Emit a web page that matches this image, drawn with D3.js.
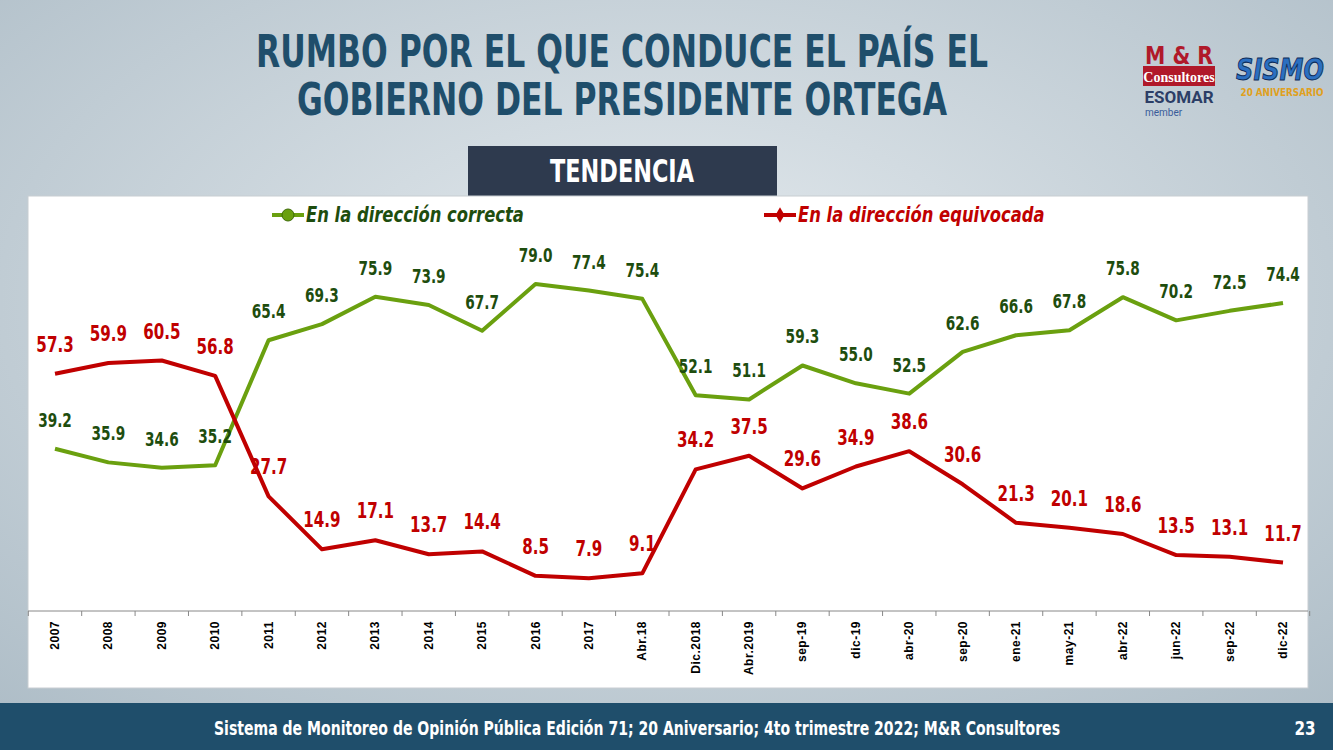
<!DOCTYPE html>
<html lang="es">
<head>
<meta charset="UTF-8">
<script src="https://d3js.org/d3.v7.min.js"></script>
<style>
  body { margin: 0; width: 1333px; height: 750px; overflow: hidden; }
  svg { display: block; }
</style>
</head>
<body>
<svg id="chart" width="1333" height="750"></svg>
<script>
const categories = ['2007','2008','2009','2010','2011','2012','2013','2014','2015','2016','2017','Abr.18',
  'Dic.2018','Abr.2019','sep-19','dic-19','abr-20','sep-20','ene-21','may-21','abr-22','jun-22','sep-22','dic-22'];
const correcta = [39.2,35.9,34.6,35.2,65.4,69.3,75.9,73.9,67.7,79.0,77.4,75.4,52.1,51.1,59.3,55.0,52.5,62.6,66.6,67.8,75.8,70.2,72.5,74.4];
const equivocada = [57.3,59.9,60.5,56.8,27.7,14.9,17.1,13.7,14.4,8.5,7.9,9.1,34.2,37.5,29.6,34.9,38.6,30.6,21.3,20.1,18.6,13.5,13.1,11.7];

const svg = d3.select('#chart');
const cond = "'DejaVu Sans', sans-serif";

// condensed text helper: squeeze horizontally around (x, y)
function ctext(g, x, y, txt, size, color, opts = {}) {
  const t = g.append('text')
    .attr('transform', `translate(${x},${y}) scale(${opts.sx || 0.75},1)`)
    .attr('text-anchor', opts.anchor || 'middle')
    .style('font-family', cond).style('font-weight', 'bold')
    .style('font-style', opts.italic ? 'italic' : 'normal')
    .style('font-size', size + 'px').attr('fill', color).text(txt);
  return t;
}

// background
const defs = svg.append('defs');
const bg = defs.append('radialGradient').attr('id', 'bg').attr('cx', '50%').attr('cy', '40%').attr('r', '75%');
bg.append('stop').attr('offset', '0%').attr('stop-color', '#e4eaee');
bg.append('stop').attr('offset', '100%').attr('stop-color', '#aebdc7');
svg.append('rect').attr('width', 1333).attr('height', 750).attr('fill', 'url(#bg)');

// title
ctext(svg, 622, 67, 'RUMBO POR EL QUE CONDUCE EL PAÍS EL', 44, '#1f4e6b', { sx: 0.715 });
ctext(svg, 622, 115, 'GOBIERNO DEL PRESIDENTE ORTEGA', 44, '#1f4e6b', { sx: 0.715 });

// logos (approximate)
svg.append('rect').attr('x', 1143).attr('y', 66).attr('width', 72).attr('height', 20).attr('fill', '#b0192a');
ctext(svg, 1179, 64, 'M & R', 24, '#b0192a', { sx: 0.85 });
svg.append('text').attr('x', 1179).attr('y', 82).attr('text-anchor', 'middle').style('font-family', 'Liberation Serif')
  .style('font-weight', 'bold').style('font-size', '14px').attr('fill', '#fff').text('Consultores');
svg.append('text').attr('x', 1179).attr('y', 103).attr('text-anchor', 'middle').style('font-family', 'Roboto')
  .style('font-weight', 'bold').style('font-size', '17px').attr('fill', '#2c3e66').text('ESOMAR');
svg.append('text').attr('x', 1145).attr('y', 116).style('font-family', 'Roboto')
  .style('font-size', '10px').attr('fill', '#3a5c9a').text('member');
ctext(svg, 1280, 80, 'SISMO', 30, '#2b6fc0', { italic: true, sx: 0.8 }).attr('stroke', '#0d2c5a').attr('stroke-width', 1);
ctext(svg, 1282, 96, '20 ANIVERSARIO', 11, '#e0a020', { sx: 0.8 });

// TENDENCIA box
svg.append('rect').attr('x', 468).attr('y', 146).attr('width', 309).attr('height', 50).attr('fill', '#2e3a4e');
ctext(svg, 622, 182, 'TENDENCIA', 32, '#fff', { sx: 0.7 });

// plot box
svg.append('rect').attr('x', 28).attr('y', 196).attr('width', 1280).attr('height', 492)
  .attr('fill', '#fff').attr('stroke', '#c8cdd2');

const x = d3.scalePoint().domain(categories).range([55, 1283]);
const y = d3.scaleLinear().domain([0, 100]).range([611, 197]);

// x axis
const xAxis = svg.append('g').attr('transform', `translate(0,${y(0)})`)
  .call(d3.axisBottom(x).tickSize(0).tickFormat(''));
xAxis.select('.domain').attr('d', `M28,0H1308`).attr('stroke', '#888');
const step = x.step();
svg.append('g').selectAll('line').data(d3.range(categories.length + 1)).join('line')
  .attr('x1', i => 55 - step / 2 + i * step).attr('x2', i => 55 - step / 2 + i * step)
  .attr('y1', y(0)).attr('y2', y(0) + 5).attr('stroke', '#888');
svg.append('g').selectAll('text').data(categories).join('text')
  .attr('transform', d => `translate(${x(d) + 4},${y(0) + 10}) rotate(-90)`)
  .attr('text-anchor', 'end').style('font-family', 'Liberation Sans').style('font-weight', 'bold')
  .style('font-size', '12px').style('letter-spacing', '0.5px').attr('fill', '#000').text(d => d);

const series = [
  { name: 'En la dirección correcta', values: correcta, color: '#6aa00f', label: '#1e4d0e', lx: 288 },
  { name: 'En la dirección equivocada', values: equivocada, color: '#c00000', label: '#c00000', lx: 780 }
];
const line = d3.line().x((d, i) => x(categories[i])).y(d => y(d));

series.forEach(s => {
  svg.append('path').datum(s.values).attr('d', line).attr('fill', 'none')
    .attr('stroke', s.color).attr('stroke-width', 4).attr('stroke-linejoin', 'round');
  const g = svg.append('g');
  s.values.forEach((d, i) => ctext(g, x(categories[i]), y(d) - 22, d.toFixed(1), s.label === '#c00000' ? 21 : 19, s.label, { sx: 0.72 }));
  // legend
  svg.append('line').attr('x1', s.lx - 16).attr('x2', s.lx + 16).attr('y1', 215).attr('y2', 215)
    .attr('stroke', s.color).attr('stroke-width', 4);
  ctext(svg, s.lx + 18, 222, s.name, 21, s.label, { anchor: 'start', italic: true, sx: 0.78 });
});
// legend markers
svg.append('circle').attr('cx', 288).attr('cy', 215).attr('r', 6).attr('fill', '#6aa00f').attr('stroke', '#3d6b08');
svg.append('path').attr('d', d3.symbol(d3.symbolDiamond, 70)()).attr('transform', 'translate(780,215)').attr('fill', '#c00000');

// footer
svg.append('rect').attr('x', 0).attr('y', 703).attr('width', 1333).attr('height', 47).attr('fill', '#1f4e6b');
ctext(svg, 637, 735, 'Sistema de Monitoreo de Opinión Pública Edición 71; 20 Aniversario; 4to trimestre 2022; M&R Consultores', 19, '#fff', { sx: 0.74 });
ctext(svg, 1305, 735, '23', 19, '#fff', { sx: 0.8 });
</script>
</body>
</html>
